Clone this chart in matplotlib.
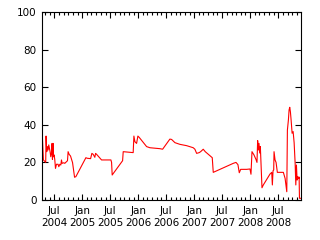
import datetime as dt
import matplotlib
matplotlib.use("Agg")
import matplotlib.pyplot as plt
import matplotlib.dates as mdates

# decimal-year dates and values
years = [2004.285, 2004.306, 2004.347, 2004.353, 2004.365, 2004.377, 2004.389, 2004.401,
         2004.413, 2004.425, 2004.437, 2004.449, 2004.460, 2004.467, 2004.478, 2004.485,
         2004.496, 2004.508, 2004.521, 2004.539, 2004.567, 2004.580, 2004.598, 2004.616,
         2004.628, 2004.639, 2004.669, 2004.687, 2004.717, 2004.735, 2004.746, 2004.764,
         2004.789, 2004.825, 2004.848, 2004.861, 2004.884, 2005.063, 2005.086, 2005.147,
         2005.170, 2005.193, 2005.223, 2005.236, 2005.254, 2005.343, 2005.510, 2005.522,
         2005.533, 2005.719, 2005.730, 2005.908, 2005.921, 2005.939, 2005.969, 2005.992,
         2006.016, 2006.148, 2006.207, 2006.386, 2006.434, 2006.564, 2006.595, 2006.654,
         2006.743, 2006.863, 2006.981, 2007.011, 2007.042, 2007.088, 2007.113, 2007.160,
         2007.196, 2007.321, 2007.339, 2007.369, 2007.458, 2007.607, 2007.697, 2007.745,
         2007.780, 2007.804, 2007.829, 2007.936, 2007.995, 2008.013, 2008.031, 2008.066,
         2008.102, 2008.120, 2008.132, 2008.144, 2008.156, 2008.168, 2008.180, 2008.191,
         2008.209, 2008.233, 2008.352, 2008.383, 2008.394, 2008.406, 2008.418, 2008.424,
         2008.442, 2008.460, 2008.483, 2008.590, 2008.621, 2008.651, 2008.662, 2008.680,
         2008.692, 2008.704, 2008.716, 2008.728, 2008.746, 2008.764, 2008.782, 2008.800,
         2008.812, 2008.823, 2008.835, 2008.848, 2008.866, 2008.871, 2008.877, 2008.910]
values = [35.1, 21.3, 20.0, 34.0, 25.7, 28.4, 26.6, 29.3,
          27.5, 25.7, 23.0, 24.8, 30.1, 21.6, 30.1, 23.0,
          24.0, 21.6, 16.8, 19.0, 19.0, 17.7, 19.0, 18.6,
          21.3, 19.5, 19.8, 19.5, 20.4, 20.9, 25.7, 24.3,
          23.4, 19.9, 15.1, 12.1, 12.4, 22.5, 22.2, 22.0,
          24.8, 24.3, 22.7, 24.8, 24.3, 21.3, 21.3, 20.0,
          13.3, 20.9, 25.7, 25.2, 34.0, 31.0, 30.1, 34.0,
          33.3, 28.4, 27.8, 27.3, 27.0, 32.4, 32.2, 30.5,
          29.6, 28.9, 27.8, 27.0, 24.8, 25.2, 25.7, 27.0,
          25.7, 22.5, 14.7, 15.1, 16.3, 18.3, 19.5, 20.0,
          18.8, 14.5, 16.3, 16.3, 16.5, 13.7, 25.7, 24.0,
          21.6, 20.0, 31.6, 26.6, 30.1, 25.0, 28.4, 20.4,
          6.5, 8.0, 13.8, 14.7, 8.0, 15.5, 16.0, 25.7,
          21.3, 20.0, 14.7, 14.7, 11.5, 4.4, 37.2, 42.6,
          47.9, 49.3, 46.8, 42.6, 35.5, 36.4, 30.5, 19.5,
          8.0, 18.6, 10.6, 12.4, 11.5, 12.2, 0.9, 0.9]
y_ticks = [0, 20, 40, 60, 80, 100]


def to_date(y):
    yr = int(y)
    start = dt.datetime(yr, 1, 1)
    end = dt.datetime(yr + 1, 1, 1)
    return start + (end - start) * (y - yr)


dates = [to_date(y) for y in years]

plt.rcParams['font.family'] = ['DejaVu Sans']
fig = plt.figure(figsize=(3.2, 2.4), dpi=100)
ax = fig.add_axes([0.132, 0.1667, 0.8096, 0.7833])
ax.plot(dates, values, color='#ff0000', linewidth=0.8)

ax.set_xlim(dates[0], dates[-1])
ax.set_ylim(0, 100)
ax.set_yticks(y_ticks)
ax.xaxis.set_major_locator(mdates.MonthLocator(bymonth=[1, 7]))
ax.xaxis.set_major_formatter(mdates.DateFormatter('%b\n%Y'))
ax.xaxis.set_minor_locator(mdates.MonthLocator())

ax.tick_params(which='both', direction='in', top=True, right=True,
               labelsize=7.5, colors='black', width=0.8)
ax.tick_params(which='major', length=4.5, pad=4)
ax.tick_params(which='minor', length=2.5)
for lbl in ax.get_xticklabels():
    lbl.set_linespacing(1.25)
for s in ax.spines.values():
    s.set_linewidth(0.8)
    s.set_color('black')

fig.savefig('out.png', dpi=100)
